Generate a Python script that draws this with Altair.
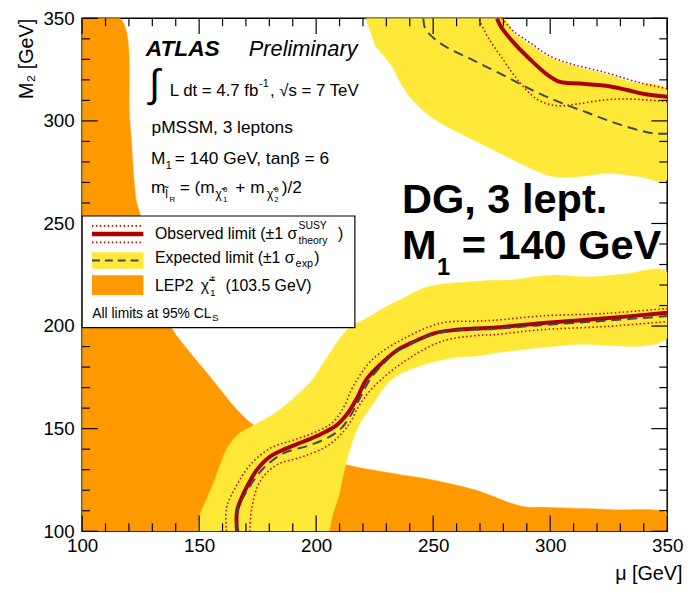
import altair as alt
import pandas as pd

FONT = "Liberation Sans"

# ---------------- data ----------------
# LEP2 chargino exclusion (orange region, polygon)
lep_mu = [100, 116.2, 120.4, 123.2, 124.7, 127.0, 130.0, 134.5, 138.7, 145.1, 152.1, 158.0, 163.2, 168.0,
          173.3, 185.0, 200.0, 216.1, 232.0, 249.8, 267.6, 288.2, 298.5, 326.6, 350, 350, 100]
lep_m2 = [350, 350, 299.4, 260.8, 254.6, 240.0, 225.0, 210.0, 198.2, 188.4, 178.8, 170.5, 163.0, 157.0,
          151.6, 143.5, 136.5, 131.5, 128.3, 125.0, 120.2, 112.1, 111.6, 110.5, 108.4, 100, 100]

# Expected limit +-1 sigma band, lower branch (polygon)
band_lo_mu = [149.6, 150.0, 152.8, 156.4, 158.5, 162.0, 166.5, 173.3, 183.1, 191.5, 198.6, 202.5, 206.0,
              214.0, 222.0, 230.0, 238.0, 246.0, 255.0, 265.0, 276.0, 281.7, 300.0, 316.9, 331.0, 350,
              350, 309.8, 281.7, 267.6, 262.0, 247.0, 232.4, 224.0, 218.3, 214.1, 211.3, 209.8, 207.1, 205.6]
band_lo_m2 = [100, 106.5, 114.6, 124.3, 130.8, 140.5, 147.0, 151.6, 158.0, 166.0, 174.1, 181.0, 187.0,
              199.0, 204.0, 209.5, 214.0, 218.5, 220.6, 221.5, 222.3, 222.3, 224.7, 223.9, 225.2, 226.3,
              194.2, 191.0, 187.7, 185.3, 185.0, 181.5, 174.1, 161.5, 151.6, 138.8, 125.9, 117.9, 108.2, 100]

# Expected limit +-1 sigma band, upper branch (polygon)
band_hi_mu = [221.1, 280.0, 284.5, 290.1, 298.6, 309.8, 323.9, 335.2, 350, 350, 338.0, 323.9, 312.7,
              301.4, 288.7, 274.7, 260.5, 249.3, 240.9, 235.9, 232.4, 225.3]
band_hi_m2 = [350, 350, 342.8, 338.0, 331.5, 326.7, 322.7, 318.7, 315.0, 271.3, 272.9, 274.5, 272.9,
              272.9, 278.5, 286.5, 294.6, 301.8, 310.6, 318.7, 326.7, 336.4]

# Observed limit (solid)
obs_lo_mu = [166.2, 166.2, 169.0, 172.0, 174.7, 180.3, 187.3, 194.4, 201.0, 208.5, 213.5, 217.5, 221.5,
             228.2, 235.0, 242.0, 250.7, 260.0, 267.6, 276.0, 295.8, 323.9, 350]
obs_lo_m2 = [100, 109.9, 118.5, 125.0, 130.0, 136.4, 140.4, 143.6, 146.8, 151.5, 157.5, 165.0, 174.0,
             182.1, 188.5, 192.5, 196.6, 198.2, 198.8, 199.2, 201.4, 203.8, 206.5]
obs_hi_mu = [277.3, 278.9, 284.5, 291.5, 298.6, 304.2, 312.7, 323.9, 332.4, 340.8, 350]
obs_hi_m2 = [350, 346.0, 338.0, 329.9, 322.7, 319.0, 318.2, 317.1, 315.2, 313.0, 311.8]

# Observed +1 sigma(theory) (dotted)
thp_lo_mu = [161.7, 161.7, 166.2, 171.8, 180.3, 190.2, 201.4, 207.5, 212.0, 216.0, 224.0, 238.0, 253.5,
             267.6, 276.0, 295.8, 323.9, 350]
thp_lo_m2 = [100, 111.4, 122.7, 132.3, 140.4, 144.4, 149.2, 153.5, 161.0, 171.0, 183.7, 194.2, 201.5,
             202.4, 202.8, 204.9, 206.2, 208.6]
thp_hi_mu = [279.2, 284.5, 291.5, 300.0, 309.8, 323.9, 338.0, 350]
thp_hi_m2 = [350, 343.6, 338.0, 331.5, 327.5, 323.5, 318.7, 315.7]

# Observed -1 sigma(theory) (dotted)
thm_lo_mu = [171.6, 172.5, 176.0, 183.1, 194.4, 204.2, 210.0, 214.5, 218.5, 225.0, 238.0, 253.5, 267.6,
             276.0, 295.8, 323.9, 350]
thm_lo_m2 = [100, 111.4, 124.3, 132.3, 136.4, 141.2, 146.5, 153.0, 161.5, 170.9, 183.0, 192.5, 195.3,
             195.8, 198.2, 199.8, 202.2]
thm_hi_mu = [269.7, 273.2, 278.9, 285.9, 294.3, 302.8, 311.2, 323.9, 335.2, 350]
thm_hi_m2 = [349.2, 341.2, 331.5, 320.3, 310.6, 307.4, 308.2, 310.3, 310.6, 309.4]

# Expected limit (dashed)
exp_lo_mu = [166.2, 166.2, 170.4, 177.5, 185.9, 197.2, 205.6, 211.0, 215.0, 219.0, 223.0, 229.0, 235.0,
             242.0, 250.7, 260.0, 267.6, 276.0, 295.8, 323.9, 350]
exp_lo_m2 = [100, 110.0, 119.5, 130.7, 137.9, 141.9, 146.0, 150.5, 157.0, 165.5, 174.0, 182.0, 188.0,
             192.3, 196.2, 197.8, 198.3, 198.6, 200.4, 202.6, 204.9]
exp_hi_mu = [245.8, 246.5, 249.3, 254.9, 267.6, 281.7, 292.9, 304.2, 315.5, 326.7, 338.0, 345.0, 350]
exp_hi_m2 = [350, 345.3, 341.3, 336.5, 329.3, 321.3, 314.7, 309.0, 304.2, 299.4, 295.4, 293.8, 293.8]

x_major = [100, 150, 200, 250, 300, 350]
x_minor = [v for v in range(110, 350, 10) if v % 50 != 0]
y_major = [100, 150, 200, 250, 300, 350]
y_minor = [v for v in range(110, 350, 10) if v % 50 != 0]


# ---------------- helpers ----------------
def frame(pairs):
    rows = []
    for name, mus, m2s in pairs:
        for i, (a, b) in enumerate(zip(mus, m2s)):
            rows.append({"mu": a, "m2": b, "grp": name, "idx": i})
    return pd.DataFrame(rows)


W, H = 592, 519
xs = alt.Scale(domain=[100, 350], nice=False, zero=False)
ys = alt.Scale(domain=[100, 350], nice=False, zero=False)
x_axis = alt.Axis(values=x_major, ticks=False, domain=False, grid=False, labelFont=FONT,
                  labelFontSize=19, labelColor="black", labelPadding=6, labelFlush=False,
                  title="μ [GeV]", titleFont=FONT, titleFontSize=20, titleFontWeight="normal",
                  titleColor="black", titleX=607, titleY=49, titleAlign="right",
                  titleBaseline="alphabetic")
y_axis = alt.Axis(values=y_major, ticks=False, domain=False, grid=False, labelFont=FONT,
                  labelFontSize=19, labelColor="black", labelPadding=8, labelFlush=False,
                  title="M₂  [GeV]", titleFont=FONT, titleFontSize=20, titleFontWeight="normal",
                  titleColor="black", titleX=-50, titleY=0, titleAngle=270, titleAlign="right",
                  titleBaseline="alphabetic")
X = alt.X("mu:Q", scale=xs, axis=x_axis)
Y = alt.Y("m2:Q", scale=ys, axis=y_axis)

ORANGE = "#FF9900"
YELLOW = "#FFE838"
RED = "#AA0000"
DOT = "#CC0000"
DASH = "#3C4852"


def polygon(df, color):
    return alt.Chart(df).mark_line(fill=color, stroke=color, strokeWidth=0.5, clip=True,
                                   interpolate="catmull-rom").encode(
        x=X, y=Y, detail="grp:N", order=alt.Order("idx:Q"))


def curves(df, color, width, dash=None):
    kw = dict(color=color, strokeWidth=width, clip=True, interpolate="catmull-rom")
    if dash is not None:
        kw["strokeDash"] = dash
    return alt.Chart(df).mark_line(**kw).encode(x=X, y=Y, detail="grp:N", order=alt.Order("idx:Q"))


one = pd.DataFrame({"a": [0]})


def txt(s, x, y, size, weight="normal", style="normal", align="left"):
    return alt.Chart(one).mark_text(text=s, align=align, baseline="alphabetic", font=FONT,
                                    fontSize=size, fontWeight=weight, fontStyle=style,
                                    color="black").encode(x=alt.value(x), y=alt.value(y))


def rule(x1, x2, y1, y2, color, width, dash=None):
    kw = dict(color=color, strokeWidth=width)
    if dash is not None:
        kw["strokeDash"] = dash
    return alt.Chart(one).mark_rule(**kw).encode(x=alt.value(x1), x2=alt.value(x2),
                                                 y=alt.value(y1), y2=alt.value(y2))


def box(x1, x2, y1, y2, fill, stroke=None, sw=0):
    kw = dict(fill=fill, strokeWidth=sw)
    if stroke is not None:
        kw["stroke"] = stroke
    return alt.Chart(one).mark_rect(**kw).encode(x=alt.value(x1), x2=alt.value(x2),
                                                 y=alt.value(y1), y2=alt.value(y2))


# ---------------- layers ----------------
lep = polygon(frame([("lep", lep_mu, lep_m2)]), ORANGE)
band = polygon(frame([("lo", band_lo_mu, band_lo_m2), ("hi", band_hi_mu, band_hi_m2)]), YELLOW)
dotted = curves(frame([("p_lo", thp_lo_mu, thp_lo_m2), ("p_hi", thp_hi_mu, thp_hi_m2),
                       ("m_lo", thm_lo_mu, thm_lo_m2), ("m_hi", thm_hi_mu, thm_hi_m2)]),
                DOT, 1.6, [1.5, 2.5])
observed = curves(frame([("lo", obs_lo_mu, obs_lo_m2), ("hi", obs_hi_mu, obs_hi_m2)]), RED, 4)
expected = curves(frame([("lo", exp_lo_mu, exp_lo_m2), ("hi", exp_hi_mu, exp_hi_m2)]), DASH, 2, [10, 6])

xmaj = pd.DataFrame({"mu": x_major})
xmin = pd.DataFrame({"mu": x_minor})
ymaj = pd.DataFrame({"m2": y_major})
ymin = pd.DataFrame({"m2": y_minor})


def xticks(df, L):
    b = alt.Chart(df).mark_rule(color="black", strokeWidth=1.2).encode(x=X, y=alt.value(H), y2=alt.value(H - L))
    t = alt.Chart(df).mark_rule(color="black", strokeWidth=1.2).encode(x=X, y=alt.value(0), y2=alt.value(L))
    return [b, t]


def yticks(df, L):
    l = alt.Chart(df).mark_rule(color="black", strokeWidth=1.2).encode(y=Y, x=alt.value(0), x2=alt.value(L))
    r = alt.Chart(df).mark_rule(color="black", strokeWidth=1.2).encode(y=Y, x=alt.value(W), x2=alt.value(W - L))
    return [l, r]


ticks = xticks(xmaj, 16) + xticks(xmin, 8) + yticks(ymaj, 16) + yticks(ymin, 8)

legend = [
    box(0, 276, 200, 313, "white", "black", 1.2),
    rule(10, 62, 210, 210, DOT, 1.6, [1.5, 2.5]),
    rule(10, 62, 218.3, 218.3, RED, 4.5),
    rule(10, 62, 226.7, 226.7, DOT, 1.6, [1.5, 2.5]),
    box(10, 62, 236.7, 253.3, YELLOW),
    rule(10, 62, 245, 245, DASH, 2, [8, 5]),
    box(10, 62, 260, 280, ORANGE),
    txt("Observed limit (±1 σ", 73.7, 223.3, 16),
    txt("SUSY", 219, 213, 10.5),
    txt("theory", 219, 228, 10.5),
    txt(")", 259, 223.3, 16),
    txt("Expected limit (±1 σ", 73.7, 247.7, 16),
    txt("exp", 216, 252, 11),
    txt(")", 235, 247.7, 16),
    txt("LEP2", 73.7, 275.7, 16),
    txt("χ\u0303", 120, 275.7, 16),
    txt("±", 129.5, 266, 10),
    txt("1", 129.5, 281, 10),
    txt("(103.5 GeV)", 145, 275.7, 16),
    txt("All limits at 95% CL", 10.3, 303, 14),
    txt("S", 131.5, 306.5, 10),
]

notes = [
    txt("ATLAS", 64.3, 38.3, 23, "bold", "italic"),
    txt("Preliminary", 168.7, 38.3, 22, "normal", "italic"),
    txt("∫", 68, 80, 40),
    txt("L dt = 4.7 fb", 88.7, 78.3, 17),
    txt("-1", 179, 70, 11),
    txt(", √s = 7 TeV", 190, 78.3, 17),
    txt("pMSSM, 3 leptons", 70.3, 115.7, 17.5),
    txt("M", 69.7, 147.7, 17.5),
    txt("1", 84.5, 152.5, 11),
    txt("= 140 GeV, tanβ = 6", 93.7, 147.7, 17.5),
    txt("m", 69.7, 176.7, 17.5),
    txt("l\u0303", 84, 182, 12),
    txt("R", 88.5, 186, 8),
    txt("= (m", 98.7, 176.7, 17.5),
    txt("χ\u0303", 135, 182, 12),
    txt("0", 142.5, 176, 8),
    txt("1", 142.5, 186, 8),
    txt("+ m", 155, 176.7, 17.5),
    txt("χ\u0303", 187, 182, 12),
    txt("0", 194.5, 176, 8),
    txt("2", 194.5, 186, 8),
    txt(")/2", 202, 176.7, 17.5),
    txt("DG, 3 lept.", 323.7, 196.7, 42, "bold"),
    txt("M", 323.7, 243.3, 42, "bold"),
    txt("1", 359, 260, 24, "bold"),
    txt("= 140 GeV", 384, 243.3, 42, "bold"),
]

chart = alt.layer(lep, band, dotted, observed, expected, *ticks, *legend, *notes).properties(
    width=W, height=H,
    autosize=alt.AutoSizeParams(type="none"),
    padding={"left": 75, "top": 7, "right": 17, "bottom": 54},
    background="white",
).configure_view(stroke="black", strokeWidth=1.5)

chart.save("out.html", embed_options={"renderer": "svg", "actions": False})
